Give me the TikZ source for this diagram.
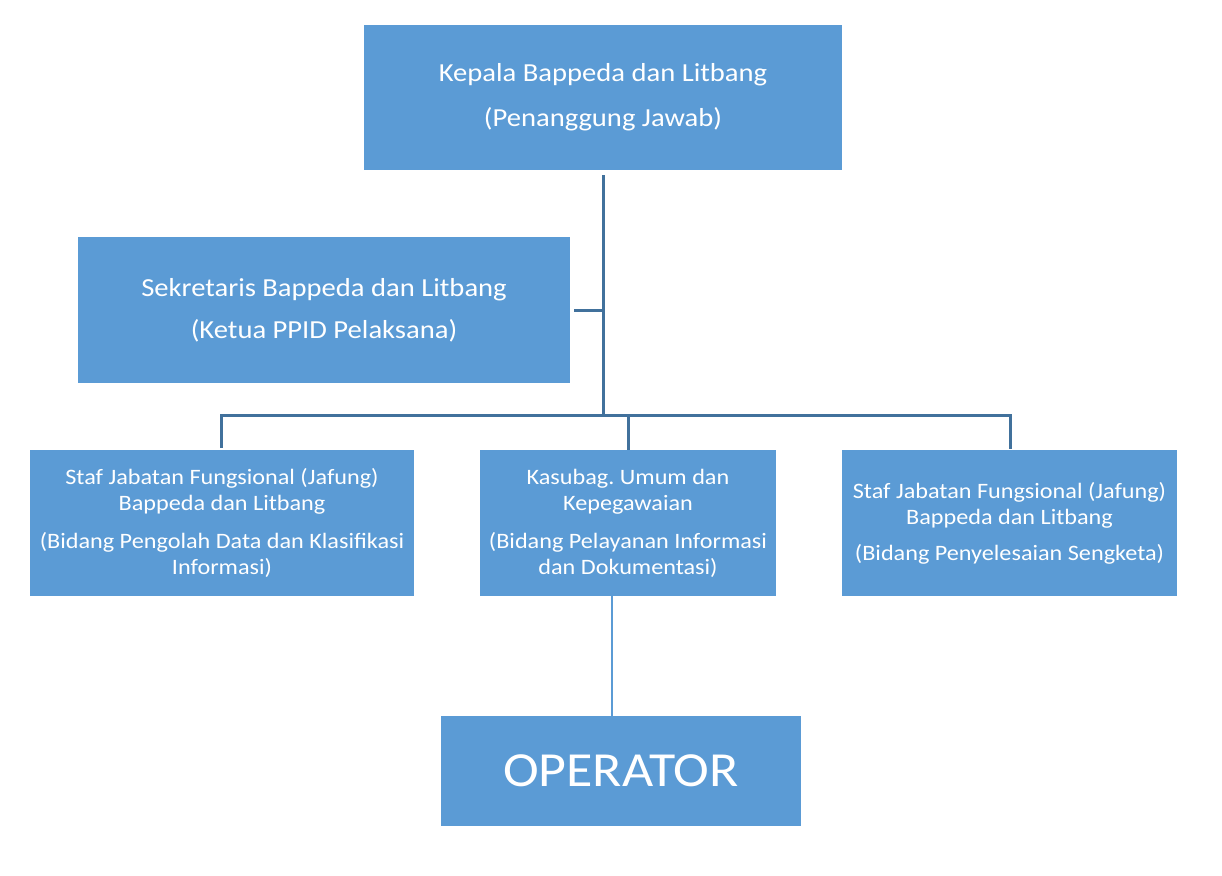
\documentclass[tikz,border=0pt]{standalone}
\usepackage{fontspec}
\setmainfont{Carlito}[FakeStretch=1.1]
\definecolor{boxfill}{HTML}{5B9BD5}
\definecolor{linedark}{HTML}{41719C}
\frenchspacing
\begin{document}
\begin{tikzpicture}[x=1pt,y=-1pt,
  box/.style={fill=boxfill,draw=none,text=white,align=center,inner sep=0pt},
  conn/.style={draw=linedark,line width=3pt},
  thin/.style={draw=boxfill,line width=1.2pt}]
\useasboundingbox (0,0) rectangle (1222,875);
\node[box,minimum width=478pt,minimum height=145pt,font=\fontsize{26}{45}\selectfont] (top) at (603,97.5) {Kepala Bappeda dan Litbang\\(Penanggung Jawab)};
\node[box,minimum width=492pt,minimum height=146pt,font=\fontsize{26}{42}\selectfont] (sek) at (324,310) {Sekretaris Bappeda dan Litbang\\(Ketua PPID Pelaksana)};
\node[box,minimum width=384pt,minimum height=146pt,font=\fontsize{22}{26}\selectfont] (left) at (222,523) {Staf Jabatan Fungsional (Jafung)\\Bappeda dan Litbang\\[12pt](Bidang Pengolah Data dan Klasifikasi\\Informasi)};
\node[box,minimum width=296pt,minimum height=146pt,font=\fontsize{22}{26}\selectfont] (mid) at (628,523) {Kasubag. Umum dan\\Kepegawaian\\[12pt](Bidang Pelayanan Informasi\\dan Dokumentasi)};
\node[box,minimum width=335pt,minimum height=146pt,font=\fontsize{22}{26}\selectfont] (right) at (1009.5,523) {Staf Jabatan Fungsional (Jafung)\\Bappeda dan Litbang\\[10pt](Bidang Penyelesaian Sengketa)};
\node[box,minimum width=360pt,minimum height=110pt,font=\fontsize{49}{49}\selectfont] (op) at (621,771) {OPERATOR};
\coordinate (j1) at (603,310);
\coordinate (j2) at (603,415);
\coordinate (bl) at (221,415);
\coordinate (bm) at (628,415);
\coordinate (br) at (1010,415);
\draw[conn] (top.south) ++(0,5) -- (j2);
\draw[conn] (sek.east |- j1) ++(4,0) -- (j1);
\draw[conn,line cap=rect] (bl |- left.north) ++(0,-3) -- (bl) -- (br) -- ++(0,32);
\draw[conn] (bm) -- (bm |- mid.north) ++(0,-3);
\draw[thin] (612,0 |- mid.south) -- (612,0 |- op.north);
\end{tikzpicture}
\end{document}
